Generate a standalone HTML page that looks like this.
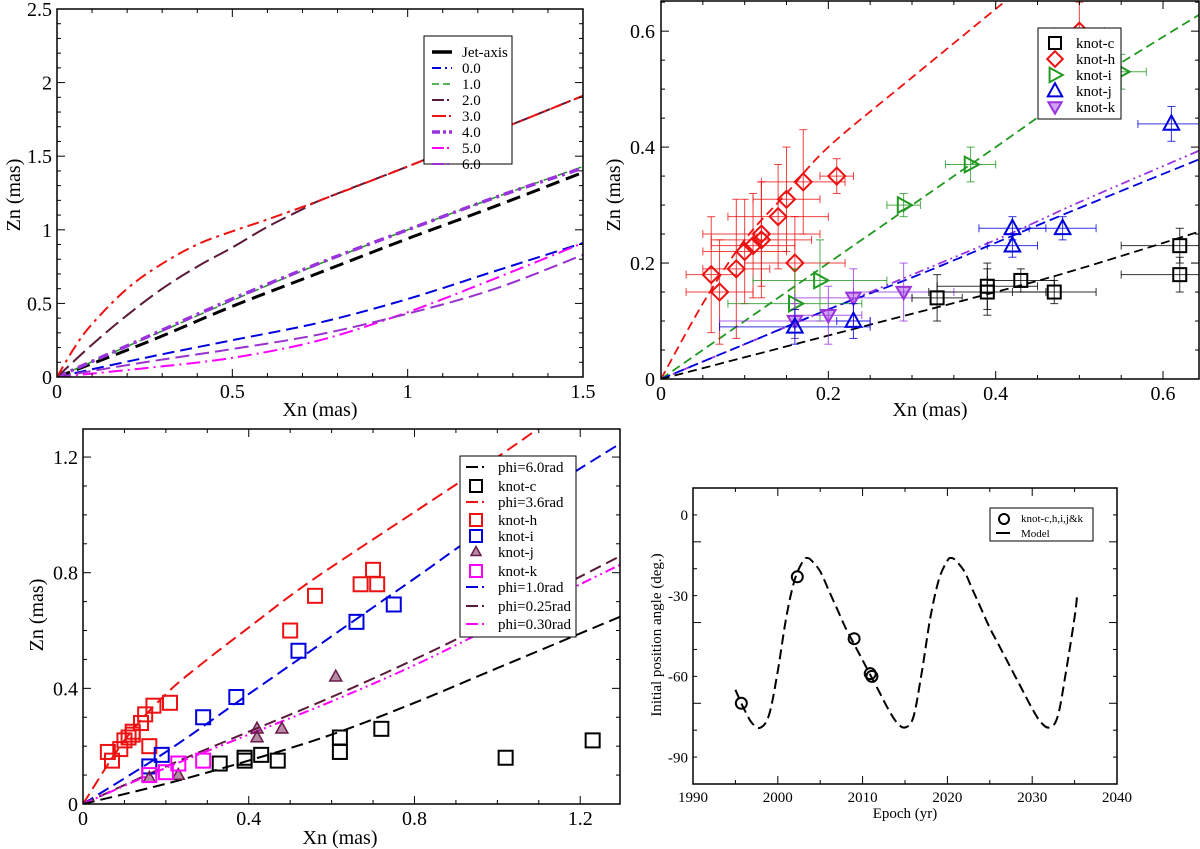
<!DOCTYPE html>
<html><head><meta charset="utf-8"><style>
html,body{margin:0;padding:0;background:#fff;}
svg{display:block;font-family:"Liberation Serif",serif;}
</style></head><body>
<svg id="fig" width="1200" height="849" viewBox="0 0 1200 849" xmlns="http://www.w3.org/2000/svg"></svg>
<script>
// ---------- Panel 1 data ----------
const p1JetAxis=[[0,0],[0.25,0.23],[0.5,0.48],[0.75,0.71],[1,0.94],[1.25,1.16],[1.5,1.39]];
const p1Phi0=[[0,0],[0.25,0.13],[0.5,0.25],[0.75,0.37],[1,0.53],[1.25,0.72],[1.5,0.91]];
const p1Phi1=[[0,0],[0.25,0.26],[0.5,0.52],[0.75,0.77],[1,1.0],[1.25,1.22],[1.5,1.43]];
const p1Phi2=[[0,0],[0.1,0.22],[0.2,0.42],[0.3,0.6],[0.4,0.75],[0.5,0.88],[0.6,1.02],[0.7,1.14],[0.75,1.2],[1,1.43],[1.25,1.67],[1.5,1.91]];
const p1Phi3=[[0,0],[0.05,0.2],[0.1,0.36],[0.2,0.6],[0.3,0.77],[0.4,0.9],[0.5,0.99],[0.6,1.07],[0.75,1.2],[1,1.43],[1.25,1.67],[1.5,1.91]];
const p1Phi4=[[0,0],[0.25,0.265],[0.5,0.53],[0.75,0.775],[1,1.0],[1.25,1.22],[1.5,1.42]];
const p1Phi5=[[0,0],[0.25,0.06],[0.5,0.13],[0.75,0.25],[1,0.44],[1.25,0.67],[1.5,0.91]];
const p1Phi6=[[0,0],[0.25,0.1],[0.5,0.19],[0.75,0.29],[1,0.43],[1.25,0.6],[1.5,0.83]];
// ---------- Panel 2 data (x, y, xerr, yerr) ----------
const p2KnotC=[[0.33,0.14,0.03,0.04],[0.39,0.16,0.06,0.04],[0.39,0.15,0.07,0.04],[0.43,0.17,0.04,0.02],[0.47,0.15,0.05,0.02],[0.62,0.23,0.07,0.03],[0.62,0.18,0.07,0.03]];
const p2KnotH=[[0.06,0.18,0.03,0.1],[0.07,0.15,0.04,0.09],[0.09,0.19,0.04,0.12],[0.10,0.22,0.05,0.09],[0.11,0.23,0.05,0.09],[0.12,0.24,0.06,0.10],[0.12,0.25,0.07,0.09],[0.14,0.28,0.06,0.09],[0.15,0.31,0.04,0.09],[0.16,0.20,0.06,0.08],[0.17,0.34,0.05,0.09],[0.21,0.35,0.02,0.03],[0.50,0.60,0.03,0.05]];
const p2KnotI=[[0.16,0.13,0.08,0.06],[0.19,0.17,0.08,0.07],[0.29,0.30,0.02,0.02],[0.37,0.37,0.03,0.03],[0.55,0.53,0.03,0.03]];
const p2KnotJ=[[0.16,0.09,0.09,0.03],[0.23,0.10,0.02,0.03],[0.42,0.26,0.04,0.02],[0.42,0.23,0.03,0.02],[0.48,0.26,0.04,0.02],[0.61,0.44,0.04,0.03]];
const p2KnotK=[[0.16,0.10,0.09,0.03],[0.20,0.11,0.04,0.05],[0.23,0.14,0.07,0.05],[0.29,0.15,0.06,0.05]];
const p2Red=[[0,0],[0.05,0.13],[0.1,0.24],[0.15,0.32],[0.2,0.4],[0.3,0.52],[0.41,0.65]];
const p2Green=[[0,0],[0.1,0.1],[0.2,0.2],[0.3,0.3],[0.4,0.4],[0.5,0.5],[0.645,0.63]];
const p2Blue=[[0,0],[0.1,0.06],[0.2,0.12],[0.3,0.175],[0.4,0.235],[0.5,0.295],[0.645,0.38]];
const p2Purple=[[0,0],[0.2,0.12],[0.4,0.24],[0.5,0.305],[0.645,0.395]];
const p2Black=[[0,0],[0.2,0.075],[0.4,0.15],[0.5,0.19],[0.645,0.255]];
// ---------- Panel 3 data ----------
const p3KnotC=[[0.33,0.14],[0.39,0.16],[0.39,0.15],[0.43,0.17],[0.47,0.15],[0.62,0.23],[0.62,0.18],[0.72,0.26],[1.02,0.16],[1.23,0.22]];
const p3KnotH=[[0.06,0.18],[0.07,0.15],[0.09,0.19],[0.10,0.22],[0.11,0.23],[0.12,0.24],[0.12,0.25],[0.14,0.28],[0.15,0.31],[0.16,0.20],[0.17,0.34],[0.21,0.35],[0.50,0.60],[0.56,0.72],[0.67,0.76],[0.70,0.81],[0.71,0.76]];
const p3KnotI=[[0.16,0.13],[0.19,0.17],[0.29,0.30],[0.37,0.37],[0.52,0.53],[0.66,0.63],[0.75,0.69]];
const p3KnotJ=[[0.16,0.09],[0.23,0.10],[0.42,0.26],[0.42,0.23],[0.48,0.26],[0.61,0.44]];
const p3KnotK=[[0.16,0.10],[0.20,0.11],[0.23,0.14],[0.29,0.15]];
const p3Phi36=[[0,0],[0.1,0.22],[0.2,0.38],[0.3,0.5],[0.4,0.61],[0.5,0.72],[0.6,0.82],[0.8,1.01],[1.0,1.2],[1.1,1.3]];
const p3Phi10=[[0,0],[0.2,0.18],[0.4,0.38],[0.6,0.58],[0.8,0.78],[1.0,0.98],[1.3,1.25]];
const p3Phi025=[[0,0],[0.2,0.13],[0.4,0.25],[0.6,0.37],[0.8,0.5],[1.0,0.64],[1.3,0.86]];
const p3Phi030=[[0,0],[0.2,0.125],[0.4,0.24],[0.6,0.355],[0.8,0.48],[1.0,0.62],[1.3,0.83]];
const p3Phi60=[[0,0],[0.2,0.07],[0.4,0.15],[0.6,0.24],[0.8,0.35],[1.0,0.47],[1.3,0.65]];
// ---------- Panel 4 data ----------
const p4Epochs=[1995.7,2002.3,2009,2010.9,2011.1];
const p4Angles=[-70,-23,-46,-59,-60];
const p4ModelT=[1995,1996,1997,1998,1999,2000,2001,2002,2003,2003.5,2004,2005,2006,2007,2008,2009,2010,2011,2012,2013,2014,2015,2016,2017,2018,2019,2020,2020.5,2021,2022,2023,2024,2025,2026,2027,2028,2029,2030,2031,2032,2033,2034,2035,2035.3];
const p4ModelA=[-65,-72,-77.5,-79,-74,-58,-38,-24,-17,-16,-17,-21,-28,-35,-42,-48,-54,-60,-66,-72,-77,-79,-75,-58,-38,-24,-17,-16,-17,-21,-28,-35,-42,-48,-54,-60,-66,-72,-77,-79,-75,-58,-38,-30];

const NS="http://www.w3.org/2000/svg";
const fig=document.getElementById('fig');
function mk(tag,attrs,parent){const e=document.createElementNS(NS,tag);for(const k in attrs)e.setAttribute(k,attrs[k]);(parent||fig).appendChild(e);return e;}
function txt(s,x,y,size,anchor,parent,extra){const t=mk('text',Object.assign({x:x,y:y,'font-size':size,'text-anchor':anchor||'middle',fill:'#000'},extra||{}),parent);t.textContent=s;return t;}

function makeAxes(o){
  const g=mk('g',{});
  
  
  const sx=v=>o.L+(v-o.x0)/(o.x1-o.x0)*(o.R-o.L);
  const sy=v=>o.B-(v-o.y0)/(o.y1-o.y0)*(o.B-o.T);
  const clipId=o.name+'-clip';
  const cp=mk('clipPath',{id:clipId},g);mk('rect',{x:o.L,y:o.T,width:o.R-o.L,height:o.B-o.T},cp);
  const plot=mk('g',{'clip-path':'url(#'+clipId+')'},g);
  
  
  const tg=mk('g',{stroke:'#000','stroke-width':1},g);
  
  
  const eps=1e-9;
  for(let v=o.x0;v<=o.x1+eps;v+=o.xmin){const major=Math.abs(Math.round((v-o.x0)/o.xmaj)*o.xmaj-(v-o.x0))<1e-6;const l=major?8:4;const x=sx(v);
    mk('line',{x1:x,y1:o.B,x2:x,y2:o.B-l},tg);mk('line',{x1:x,y1:o.T,x2:x,y2:o.T+l},tg);}
  for(let v=o.y0;v<=o.y1+eps;v+=o.ymin){const major=Math.abs(Math.round((v-o.y0)/o.ymaj)*o.ymaj-(v-o.y0))<1e-6;const l=major?8:4;const y=sy(v);
    mk('line',{x1:o.L,y1:y,x2:o.L+l,y2:y},tg);mk('line',{x1:o.R,y1:y,x2:o.R-l,y2:y},tg);}
  const xl=mk('g',{},g);
  o.xLabels.forEach(([v,s])=>txt(s,sx(v),o.B+o.xlOff,o.fs,'middle',xl));
  const yl=mk('g',{},g);
  o.yLabels.forEach(([v,s])=>txt(s,o.L-o.ylOff,sy(v)+o.fs*0.35,o.fs,'end',yl));
  const xt=txt(o.xTitle,o.xtX,o.xtY,o.tfs,'middle',g);
  
  const yt=txt(o.yTitle,0,0,o.tfs,'middle',g,{transform:'translate('+o.ytX+','+o.ytY+') rotate(-90)'});
  
  return {g,plot,sx,sy,frame:()=>{const f=mk('rect',{x:o.L,y:o.T,width:o.R-o.L,height:o.B-o.T,fill:'none',stroke:'#000','stroke-width':1.5},g);}};
}
function smoothPath(P){
  let d='M'+P[0][0].toFixed(1)+' '+P[0][1].toFixed(1);
  for(let i=0;i<P.length-1;i++){
    const p0=P[i-1]||P[i],p1=P[i],p2=P[i+1],p3=P[i+2]||P[i+1];
    const c1=[p1[0]+(p2[0]-p0[0])/6,p1[1]+(p2[1]-p0[1])/6];
    const c2=[p2[0]-(p3[0]-p1[0])/6,p2[1]-(p3[1]-p1[1])/6];
    d+=' C'+c1[0].toFixed(1)+' '+c1[1].toFixed(1)+' '+c2[0].toFixed(1)+' '+c2[1].toFixed(1)+' '+p2[0].toFixed(1)+' '+p2[1].toFixed(1);
  }
  return d;
}
function line(ax,pts,color,dash,w,name){
  const P=pts.map(p=>[ax.sx(p[0]),ax.sy(p[1])]);
  const e=mk('path',{d:smoothPath(P),fill:'none',stroke:color,'stroke-width':w||2,'stroke-dasharray':dash},ax.plot);
  
  
  return e;
}
function marker(parent,type,x,y,c,s,name){
  let e;
  if(type==='sq')e=mk('rect',{x:x-s,y:y-s,width:2*s,height:2*s,fill:'none',stroke:c,'stroke-width':2},parent);
  else if(type==='dia')e=mk('polygon',{points:`${x},${y-s*1.3} ${x+s*1.3},${y} ${x},${y+s*1.3} ${x-s*1.3},${y}`,fill:'none',stroke:c,'stroke-width':2},parent);
  else if(type==='tr')e=mk('polygon',{points:`${x-s*0.9},${y-s*1.2} ${x+s*1.3},${y} ${x-s*0.9},${y+s*1.2}`,fill:'none',stroke:c,'stroke-width':2},parent);
  else if(type==='tu')e=mk('polygon',{points:`${x},${y-s*1.3} ${x+s*1.2},${y+s*0.9} ${x-s*1.2},${y+s*0.9}`,fill:'none',stroke:c,'stroke-width':2},parent);
  else if(type==='td')e=mk('polygon',{points:`${x},${y+s*1.1} ${x+s*1.1},${y-s*0.8} ${x-s*1.1},${y-s*0.8}`,fill:c,'fill-opacity':0.45,stroke:c,'stroke-width':2},parent);
  else if(type==='tuf')e=mk('polygon',{points:`${x},${y-s*1.1} ${x+s},${y+s*0.7} ${x-s},${y+s*0.7}`,fill:c,'fill-opacity':0.5,stroke:c,'stroke-width':1.5},parent);
  else if(type==='ci')e=mk('circle',{cx:x,cy:y,r:s,fill:'none',stroke:c,'stroke-width':2},parent);
  
  
  return e;
}
function errbars(ax,pts,c,name){
  const g=mk('g',{stroke:c,'stroke-width':1,'stroke-opacity':0.8},ax.plot);
  
  
  pts.forEach(p=>{const x=ax.sx(p[0]),y=ax.sy(p[1]),x1=ax.sx(p[0]-p[2]),x2=ax.sx(p[0]+p[2]),y1=ax.sy(p[1]-p[3]),y2=ax.sy(p[1]+p[3]);
    mk('line',{x1:x1,y1:y,x2:x2,y2:y},g);mk('line',{x1:x,y1:y1,x2:x,y2:y2},g);
    mk('line',{x1:x1,y1:y-4,x2:x1,y2:y+4},g);mk('line',{x1:x2,y1:y-4,x2:x2,y2:y+4},g);
    mk('line',{x1:x-4,y1:y1,x2:x+4,y2:y1},g);mk('line',{x1:x-4,y1:y2,x2:x+4,y2:y2},g);});
}
function legend(x,y,w,h,name){const g=mk('g',{});mk('rect',{x:x,y:y,width:w,height:h,fill:'#fff',stroke:'#000','stroke-width':1},g);return g;}

// ===== Panel 1 =====
const ax1=makeAxes({name:'panel-a',L:57,R:583,T:9,B:377,x0:0,x1:1.5,y0:0,y1:2.5,xmaj:0.5,xmin:0.1,ymaj:0.5,ymin:0.1,
 xLabels:[[0,'0'],[0.5,'0.5'],[1,'1'],[1.5,'1.5']],yLabels:[[0,'0'],[0.5,'0.5'],[1,'1'],[1.5,'1.5'],[2,'2'],[2.5,'2.5']],
 fs:20,tfs:20,xlOff:21,ylOff:5,xTitle:'Xn (mas)',xtX:320,xtY:416,yTitle:'Zn (mas)',ytX:20,ytY:195});
const s1=[
 [p1Phi0,'#0000dd','12,6',2,'0.0','line-phi-0'],
 [p1Phi5,'#ff00ff','14,5,2,5',2,'5.0','line-phi-5'],
 [p1Phi6,'#9932cc','14,6',2,'6.0','line-phi-6'],
 [p1JetAxis,'#000','14,7',3,'Jet-axis','line-jet-axis'],
 [p1Phi1,'#229922','10,5',1.5,'1.0','line-phi-1'],
 [p1Phi4,'#9933dd','10,5,3,5',3.5,'4.0','line-phi-4'],
 [p1Phi2,'#5a1a3a','16,6',2,'2.0','line-phi-2'],
 [p1Phi3,'#ee1111','12,5,3,5',2,'3.0','line-phi-3']];
s1.forEach(s=>line(ax1,s[0],s[1],s[2],s[3],s[5]));
ax1.frame();
{const lg=legend(424,36,88,128,'panel-a-legend');
 const items=[['Jet-axis','#000','30,0',3.5],['0.0','#0000dd','9,4,2,4',2],['1.0','#229922','7,4',1.5],['2.0','#5a1a3a','12,3,2,3',2],['3.0','#ee1111','14,3,2,3',2],['4.0','#9933dd','8,3,3,3',3.5],['5.0','#ff00ff','12,3,2,3',2],['6.0','#9932cc','12,3,2,3',2]];
 items.forEach((it,i)=>{const y=52+i*16;const e=mk('g',{},lg);
 mk('line',{x1:432,y1:y,x2:452,y2:y,stroke:it[1],'stroke-width':it[3],'stroke-dasharray':it[2]},e);txt(it[0],462,y+5,15,'start',e);});}

// ===== Panel 2 =====
const ax2=makeAxes({name:'panel-b',L:661,R:1199,T:1,B:379,x0:0,x1:0.643,y0:0,y1:0.652,xmaj:0.2,xmin:0.05,ymaj:0.2,ymin:0.05,
 xLabels:[[0,'0'],[0.2,'0.2'],[0.4,'0.4'],[0.6,'0.6']],yLabels:[[0,'0'],[0.2,'0.2'],[0.4,'0.4'],[0.6,'0.6']],
 fs:20,tfs:20,xlOff:21,ylOff:6,xTitle:'Xn (mas)',xtX:930,xtY:416,yTitle:'Zn (mas)',ytX:620,ytY:195});
line(ax2,p2Red,'#ee1111','9,5',1.8,'model-knot-h');
line(ax2,p2Green,'#229922','9,5',1.8,'model-knot-i');
line(ax2,p2Purple,'#9933dd','9,4,2,4,2,4',1.8,'model-knot-k');
line(ax2,p2Blue,'#0000dd','10,5',1.8,'model-knot-j');
line(ax2,p2Black,'#000','9,5',1.8,'model-knot-c');
[[p2KnotH,'#ee1111','dia','knot-h'],[p2KnotI,'#229922','tr','knot-i'],[p2KnotK,'#9933dd','td','knot-k'],[p2KnotJ,'#0000dd','tu','knot-j'],[p2KnotC,'#000','sq','knot-c']].forEach(s=>{
 errbars(ax2,s[0],s[1],s[3]+'-error-bars');
 s[0].forEach((p,i)=>marker(ax2.plot,s[2],ax2.sx(p[0]),ax2.sy(p[1]),s[1],6.5,s[3]+'-point'));});
ax2.frame();
{const lg=legend(1038,28,83,91,'panel-b-legend');
 [['knot-c','#000','sq'],['knot-h','#ee1111','dia'],['knot-i','#229922','tr'],['knot-j','#0000dd','tu'],['knot-k','#9933dd','td']].forEach((it,i)=>{const y=43+i*16;
 const e=mk('g',{},lg);
 marker(e,it[2],1055,y,it[1],6,'legend-marker-'+it[0]);txt(it[0],1076,y+5,15,'start',e);});}

// ===== Panel 3 =====
const ax3=makeAxes({name:'panel-c',L:83,R:620,T:429,B:804,x0:0,x1:1.296,y0:0,y1:1.297,xmaj:0.4,xmin:0.1,ymaj:0.4,ymin:0.1,
 xLabels:[[0,'0'],[0.4,'0.4'],[0.8,'0.8'],[1.2,'1.2']],yLabels:[[0,'0'],[0.4,'0.4'],[0.8,'0.8'],[1.2,'1.2']],
 fs:20,tfs:20,xlOff:21,ylOff:5,xTitle:'Xn (mas)',xtX:340,xtY:844,yTitle:'Zn (mas)',ytX:43,ytY:615});
line(ax3,p3Phi36,'#ee1111','12,6',2,'line-phi-3-6rad');
line(ax3,p3Phi10,'#0000dd','12,6',2,'line-phi-1-0rad');
line(ax3,p3Phi025,'#5a1a3a','12,6',2,'line-phi-0-25rad');
line(ax3,p3Phi030,'#ff00ff','10,4,2,4,2,4',2,'line-phi-0-30rad');
line(ax3,p3Phi60,'#000','12,6',2,'line-phi-6-0rad');
[[p3KnotC,'#000','sq','knot-c'],[p3KnotH,'#ee1111','sq','knot-h'],[p3KnotI,'#0000dd','sq','knot-i'],[p3KnotJ,'#6a1a4a','tuf','knot-j'],[p3KnotK,'#ff00ff','sq','knot-k']].forEach(s=>{
 s[0].forEach(p=>marker(ax3.plot,s[2],ax3.sx(p[0]),ax3.sy(p[1]),s[1],s[2]==='sq'?7:6,s[3]+'-point'));});
ax3.frame();
{const lg=legend(460,456,116,181,'panel-c-legend');
 const items=[['phi=6.0rad','l','#000'],['knot-c','sq','#000'],['phi=3.6rad','l','#ee1111'],['knot-h','sq','#ee1111'],['knot-i','sq','#0000dd'],['knot-j','tuf','#6a1a4a'],['knot-k','sq','#ff00ff'],['phi=1.0rad','l','#0000dd'],['phi=0.25rad','l','#5a1a3a'],['phi=0.30rad','l','#ff00ff']];
 const ys=[467,486,502,520,536,552,571,587,606,624];
 items.forEach((it,i)=>{const y=ys[i];const e=mk('g',{},lg);
  if(it[1]==='l')mk('line',{x1:466,y1:y,x2:486,y2:y,stroke:it[2],'stroke-width':2,'stroke-dasharray':'12,4,2,4'},e);
  else marker(e,it[1],476,y,it[2],it[1]==='sq'?6:5,'legend-marker');
  txt(it[0],498,y+5,15,'start',e);});}

// ===== Panel 4 =====
const ax4=makeAxes({name:'panel-d',L:693,R:1117,T:488,B:784,x0:1990,x1:2040,y0:-100,y1:10,xmaj:10,xmin:5,ymaj:30,ymin:10,
 xLabels:[[1990,'1990'],[2000,'2000'],[2010,'2010'],[2020,'2020'],[2030,'2030'],[2040,'2040']],yLabels:[[0,'0'],[-30,'-30'],[-60,'-60'],[-90,'-90']],
 fs:15,tfs:15,xlOff:18,ylOff:5,xTitle:'Epoch (yr)',xtX:905,xtY:818,yTitle:'Initial  position angle (deg.)',ytX:661,ytY:635});
line(ax4,p4ModelT.map((t,i)=>[t,p4ModelA[i]]),'#000','10,5',2,'model-curve');
p4Epochs.forEach((t,i)=>marker(ax4.plot,'ci',ax4.sx(t),ax4.sy(p4Angles[i]),'#000',5.5,'knot-point'));
ax4.frame();
{const lg=legend(990,508,103,33,'panel-d-legend');
 const e1=mk('g',{},lg);
 marker(e1,'ci',1004,519,'#000',5,'legend-marker-circle');txt('knot-c,h,i,j&k',1021,522,11,'start',e1);
 const e2=mk('g',{},lg);
 mk('line',{x1:996,y1:533,x2:1010,y2:533,stroke:'#000','stroke-width':2},e2);txt('Model',1021,537,11,'start',e2);}
</script>
</body></html>
